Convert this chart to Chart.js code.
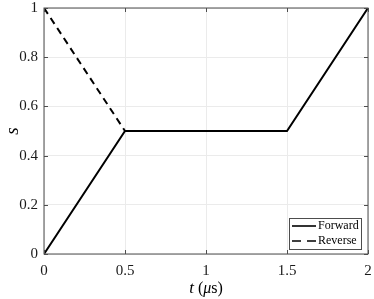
<!DOCTYPE html>
<html>
<head>
<meta charset="utf-8">
<script src="https://cdn.jsdelivr.net/npm/chart.js@4"></script>
<style>
  html, body { margin: 0; padding: 0; background: #fff; }
  #wrap { width: 374px; height: 299px; }
</style>
</head>
<body>
<div id="wrap"><canvas id="chart" width="374" height="299"></canvas></div>
<script>
// data
const forwardT = [0, 0.5, 1.5, 2];
const forwardS = [0, 0.5, 0.5, 1];
const reverseT = [0, 0.5];
const reverseS = [1, 0.5];
const xTicks = [0, 0.5, 1, 1.5, 2];
const yTicks = [0, 0.2, 0.4, 0.6, 0.8, 1];
const seriesLabels = ['Forward', 'Reverse'];

const serif = "'Liberation Serif', 'DejaVu Serif', serif";

function toPoints(xs, ys) {
    return xs.map((x, i) => ({ x: x, y: ys[i] }));
}

// box, inward ticks, axis titles and the legend inside the plot
const matlabDecor = {
    id: 'matlabDecor',
    afterDatasetsDraw(chart) {
        const ctx = chart.ctx;
        const a = chart.chartArea;
        const xs = chart.scales.x, ys = chart.scales.y;
        ctx.save();
        ctx.strokeStyle = '#4d4d4d';
        ctx.lineWidth = 1;
        ctx.strokeRect(a.left, a.top, a.right - a.left, a.bottom - a.top);
        ctx.beginPath();
        xTicks.forEach(v => {
            const px = Math.round(xs.getPixelForValue(v)) + 0.5;
            ctx.moveTo(px, a.bottom); ctx.lineTo(px, a.bottom - 4);
            ctx.moveTo(px, a.top); ctx.lineTo(px, a.top + 4);
        });
        yTicks.forEach(v => {
            const py = Math.round(ys.getPixelForValue(v)) + 0.5;
            ctx.moveTo(a.left, py); ctx.lineTo(a.left + 4, py);
            ctx.moveTo(a.right, py); ctx.lineTo(a.right - 4, py);
        });
        ctx.stroke();

        // axis titles
        ctx.fillStyle = '#000';
        ctx.textBaseline = 'middle';
        ctx.save();
        ctx.translate(13, (a.top + a.bottom) / 2);
        ctx.rotate(-Math.PI / 2);
        ctx.font = 'italic 19px ' + serif;
        ctx.textAlign = 'center';
        ctx.fillText('s', 0, 0);
        ctx.restore();

        const ty = 289;
        const cx = (a.left + a.right) / 2;
        ctx.font = 'italic 17px ' + serif;
        const tw = ctx.measureText('t').width;
        ctx.font = '16px ' + serif;
        const pw = ctx.measureText(' (').width;
        const sw = ctx.measureText('s)').width;
        ctx.font = 'italic 16px ' + serif;
        const mw = ctx.measureText('\u03BC').width;
        const x0 = cx - (tw + pw + mw + sw) / 2;
        ctx.textAlign = 'left';
        ctx.font = 'italic 17px ' + serif;
        ctx.fillText('t', x0, ty);
        ctx.font = '16px ' + serif;
        ctx.fillText(' (', x0 + tw, ty);
        ctx.font = 'italic 16px ' + serif;
        ctx.fillText('\u03BC', x0 + tw + pw, ty);
        ctx.font = '16px ' + serif;
        ctx.fillText('s)', x0 + tw + pw + mw, ty);

        // legend box
        const lx = 289, ly = 218, lw = 72, lh = 31;
        ctx.fillStyle = '#fff';
        ctx.fillRect(lx, ly, lw, lh);
        ctx.strokeStyle = '#4d4d4d';
        ctx.lineWidth = 1;
        ctx.strokeRect(lx + 0.5, ly + 0.5, lw, lh);
        ctx.font = '12px ' + serif;
        chart.data.datasets.forEach((ds, i) => {
            const yy = ly + 8 + i * 15;
            ctx.strokeStyle = '#000';
            ctx.lineWidth = 1.6;
            ctx.setLineDash(ds.borderDash ? [9, 6] : []);
            ctx.beginPath();
            ctx.moveTo(lx + 3, yy); ctx.lineTo(lx + 27, yy);
            ctx.stroke();
            ctx.setLineDash([]);
            ctx.fillStyle = '#000';
            ctx.fillText(seriesLabels[i], lx + 29, yy);
        });
        ctx.restore();
    }
};

new Chart(document.getElementById('chart').getContext('2d'), {
    type: 'line',
    data: {
        datasets: [{
            label: seriesLabels[0],
            data: toPoints(forwardT, forwardS),
            borderColor: '#000',
            borderWidth: 2,
            pointRadius: 0,
            fill: false,
            order: 0
        }, {
            label: seriesLabels[1],
            data: toPoints(reverseT, reverseS),
            borderColor: '#000',
            borderWidth: 2,
            borderDash: [7, 5],
            pointRadius: 0,
            fill: false,
            order: 1
        }]
    },
    plugins: [matlabDecor],
    options: {
        responsive: false,
        animation: false,
        layout: { padding: { top: 8, right: 6, left: 0, bottom: 0 } },
        plugins: { legend: { display: false }, tooltip: { enabled: false } },
        scales: {
            x: {
                type: 'linear',
                min: 0, max: 2,
                afterBuildTicks: s => { s.ticks = xTicks.map(v => ({ value: v })); },
                afterFit: s => { s.height = 45; s.paddingLeft = 0; s.paddingRight = 0; },
                grid: { color: '#ebebeb', drawTicks: false },
                border: { display: false },
                ticks: {
                    color: '#1a1a1a',
                    padding: 8,
                    font: { family: serif, size: 15 },
                    callback: v => String(v)
                }
            },
            y: {
                type: 'linear',
                min: 0, max: 1,
                afterBuildTicks: s => { s.ticks = yTicks.map(v => ({ value: v })); },
                afterFit: s => { s.width = 44; s.paddingTop = 0; s.paddingBottom = 0; },
                grid: { color: '#ebebeb', drawTicks: false },
                border: { display: false },
                ticks: {
                    color: '#1a1a1a',
                    padding: 6,
                    font: { family: serif, size: 15 },
                    callback: v => String(v)
                }
            }
        }
    }
});
</script>
</body>
</html>
